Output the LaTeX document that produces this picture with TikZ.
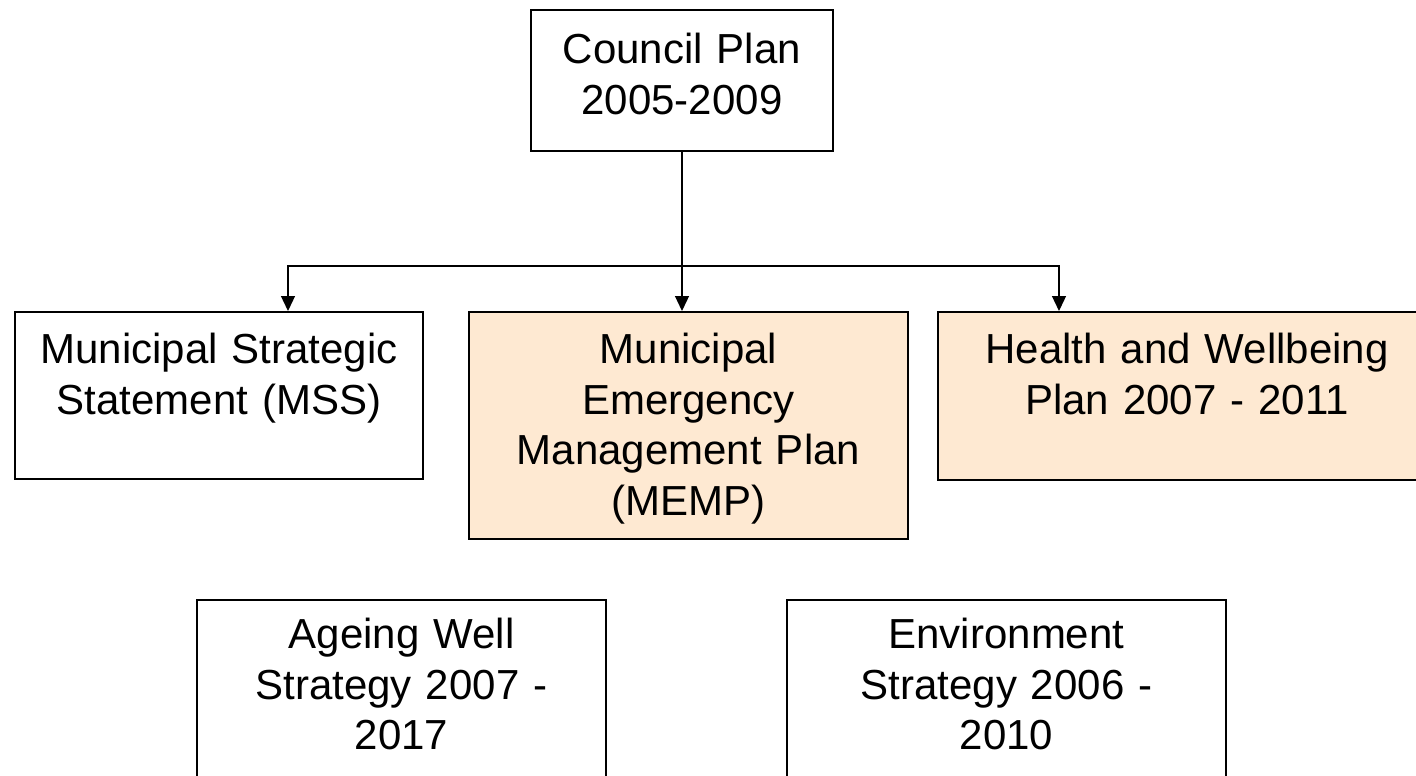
\documentclass[tikz,border=0pt]{standalone}
\usepackage{fontspec}
\setmainfont{Liberation Sans}
\usetikzlibrary{arrows.meta}

\definecolor{peach}{RGB}{254,233,210}

\begin{document}
\begin{tikzpicture}[x=1pt, y=-1pt,
    plan/.style={draw, line width=1.6pt, anchor=north, align=center,
        inner xsep=0pt, inner ysep=0pt,
        font=\fontsize{42}{50.5}\selectfont},
    arr/.style={line width=1.3pt, -{Triangle[length=15pt,width=14pt]}}]
    \useasboundingbox (0,0) rectangle (1416,776);

    % top plan
    \node[plan, text width=302, text height=54, text depth=87] (council) at (682,9)
        {Council Plan\\2005-2009};

    % middle row
    \node[plan, text width=408, text height=52, text depth=115] (mss) at (219,311)
        {Municipal Strategic\\Statement (MSS)};
    \node[plan, fill=peach, text width=439, text height=52, text depth=175] (memp) at (688.5,311)
        {Municipal\\Emergency\\Management Plan\\(MEMP)};
    \node[plan, fill=peach, text width=498, text height=52, text depth=116] (health) at (1187,311)
        {Health and Wellbeing\\Plan 2007 - 2011};

    % bottom row
    \node[plan, text width=409, text height=49, text depth=170] (ageing) at (401.5,599)
        {Ageing Well\\Strategy 2007 -\\2017};
    \node[plan, text width=439, text height=49, text depth=170] (environ) at (1006.5,599)
        {Environment\\Strategy 2006 -\\2010};

    % branch line
    \coordinate (split) at (682,266);
    \coordinate (branch west) at (288,266);
    \coordinate (branch east) at (1059,266);

    % council to MEMP
    \draw[arr] (council.south) -- (council.south |- memp.north);

    % branch to MSS and health plan
    \draw[arr] (split) -- (branch west) -- (branch west |- mss.north);
    \draw[arr] (split) -- (branch east) -- (branch east |- health.north);
\end{tikzpicture}
\end{document}
